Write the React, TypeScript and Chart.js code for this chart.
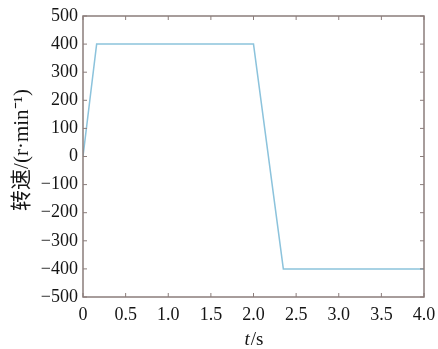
import React, { useEffect, useRef } from "react";
import { Chart, registerables } from "chart.js";

Chart.register(...registerables);

const timeValues = [0, 0.16, 2.0, 2.35, 4.0];
const speedValues = [0, 400, 400, -400, -400];
const xTicks = [0, 0.5, 1.0, 1.5, 2.0, 2.5, 3.0, 3.5, 4.0];
const yTicks = [-500, -400, -300, -200, -100, 0, 100, 200, 300, 400, 500];
const xTitleItalic = "t";
const xTitleRest = "/s";
const yTitle = "转速/(r·min⁻¹)";

const frameColor = "#8b7d7b";
const textColor = "#151515";
const serif = "'Liberation Serif', 'Times New Roman', serif";

const boxPlugin = {
  id: "boxTicks",
  afterDraw(chart: any) {
    const { ctx, chartArea: a, scales } = chart;
    ctx.save();
    ctx.strokeStyle = frameColor;
    ctx.lineWidth = 1.5;
    ctx.strokeRect(a.left, a.top, a.right - a.left, a.bottom - a.top);
    ctx.lineWidth = 1;
    const len = 4;
    ctx.beginPath();
    for (const v of xTicks) {
      const px = scales.x.getPixelForValue(v);
      ctx.moveTo(px, a.bottom);
      ctx.lineTo(px, a.bottom - len);
      ctx.moveTo(px, a.top);
      ctx.lineTo(px, a.top + len);
    }
    for (const v of yTicks) {
      const py = scales.y.getPixelForValue(v);
      ctx.moveTo(a.left, py);
      ctx.lineTo(a.left + len, py);
      ctx.moveTo(a.right, py);
      ctx.lineTo(a.right - len, py);
    }
    ctx.stroke();

    // x title: italic t + upright /s
    ctx.fillStyle = textColor;
    ctx.textBaseline = "alphabetic";
    ctx.font = `italic 19px ${serif}`;
    const w1 = ctx.measureText(xTitleItalic).width;
    ctx.font = `19px ${serif}`;
    const w2 = ctx.measureText(xTitleRest).width;
    const cx = (a.left + a.right) / 2;
    const x0 = cx - (w1 + w2) / 2;
    const by = 345;
    ctx.font = `italic 19px ${serif}`;
    ctx.textAlign = "left";
    ctx.fillText(xTitleItalic, x0, by);
    ctx.font = `19px ${serif}`;
    ctx.fillText(xTitleRest, x0 + w1 + 1, by);

    // y title rotated
    ctx.translate(22, 150);
    ctx.rotate(-Math.PI / 2);
    ctx.textAlign = "center";
    ctx.textBaseline = "middle";
    ctx.font = `21px 'Liberation Serif', 'Noto Sans CJK SC', serif`;
    ctx.fillText(yTitle, 0, 0);
    ctx.restore();
  },
};

export default function App() {
  const ref = useRef<HTMLCanvasElement>(null);
  useEffect(() => {
    document.body.style.margin = "0";
    const canvas = ref.current!;
    const chart = new Chart(canvas, {
      type: "line",
      data: {
        datasets: [
          {
            data: timeValues.map((t, i) => ({ x: t, y: speedValues[i] })),
            borderColor: "#8cc3dc",
            borderWidth: 1.5,
            pointRadius: 0,
            fill: false,
            tension: 0,
          },
        ],
      },
      options: {
        animation: false,
        responsive: false,
        maintainAspectRatio: false,
        layout: { padding: { top: 16, right: 14, left: 0, bottom: 0 } },
        plugins: { legend: { display: false }, tooltip: { enabled: false } },
        scales: {
          x: {
            type: "linear",
            min: 0,
            max: 4,
            afterBuildTicks: (s: any) => {
              s.ticks = xTicks.map((v) => ({ value: v }));
            },
            afterFit: (s: any) => {
              s.height = 52;
              s.paddingRight = 0;
              s.paddingLeft = 0;
            },
            grid: { display: false, drawTicks: false },
            border: { display: false },
            ticks: {
              padding: 7,
              color: textColor,
              font: { family: serif, size: 18 },
              maxRotation: 0,
              autoSkip: false,
              callback: (v: any) => (v === 0 ? "0" : Number(v).toFixed(1)),
            },
            title: { display: false },
          },
          y: {
            type: "linear",
            min: -500,
            max: 500,
            afterBuildTicks: (s: any) => {
              s.ticks = yTicks.map((v) => ({ value: v }));
            },
            afterFit: (s: any) => {
              s.width = 83;
              s.paddingTop = 0;
              s.paddingBottom = 0;
            },
            grid: { display: false, drawTicks: false },
            border: { display: false },
            ticks: {
              padding: 5,
              color: textColor,
              font: { family: serif, size: 18 },
              autoSkip: false,
              callback: (v: any) => (Number(v) < 0 ? "\u2212" + Math.abs(Number(v)) : String(v)),
            },
            title: { display: false },
          },
        },
      },
      plugins: [boxPlugin],
    });
    return () => chart.destroy();
  }, []);
  return (
    <div style={{ width: 438, height: 349, background: "#fff" }}>
      <canvas ref={ref} width={438} height={349} />
    </div>
  );
}
